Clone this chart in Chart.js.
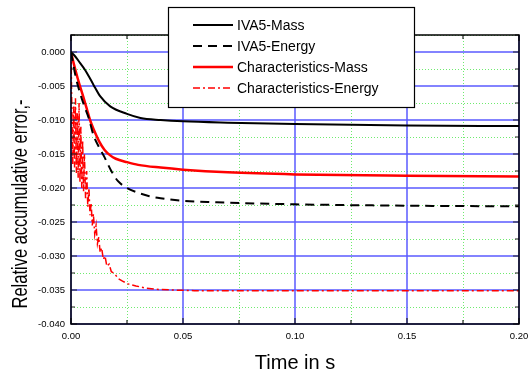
<!DOCTYPE html>
<html>
<head>
<meta charset="utf-8">
<script src="https://cdn.jsdelivr.net/npm/chart.js@4/dist/chart.umd.min.js"></script>
<style>
  html, body { margin: 0; padding: 0; background: #fff; }
  canvas { display: block; }
</style>
</head>
<body>
<canvas id="c" width="528" height="374"></canvas>
<script>
const FONT = '"Liberation Sans", Arial, Helvetica, sans-serif';

// Series names (legend order)
const seriesNames = ['IVA5-Mass', 'IVA5-Energy', 'Characteristics-Mass', 'Characteristics-Energy'];

// IVA5 – mass balance error
const ivaMassTime  = [0, 0.002, 0.004, 0.006, 0.008, 0.010, 0.013, 0.0175, 0.025, 0.031, 0.040, 0.050, 0.070, 0.100, 0.150, 0.200];
const ivaMassError = [0, -0.0007, -0.0016, -0.0025, -0.0036, -0.0048, -0.0065, -0.0080, -0.0091, -0.0097, -0.0100, -0.0102, -0.0104, -0.0106, -0.0108, -0.0109];

// IVA5 – energy balance error
const ivaEnergyTime  = [0, 0.002, 0.004, 0.006, 0.008, 0.010, 0.0125, 0.015, 0.018, 0.021, 0.025, 0.030, 0.035, 0.040, 0.050, 0.065, 0.100, 0.150, 0.200];
const ivaEnergyError = [0, -0.0035, -0.0060, -0.0080, -0.0098, -0.0122, -0.0140, -0.0155, -0.0175, -0.0190, -0.0200, -0.0207, -0.0212, -0.0215, -0.0219, -0.0221, -0.0224, -0.0226, -0.0227];

// Method of characteristics – mass balance error
const charMassTime  = [0, 0.001, 0.002, 0.003, 0.004, 0.0055, 0.007, 0.0085, 0.010, 0.0125, 0.015, 0.0175, 0.020, 0.025, 0.030, 0.040, 0.050, 0.070, 0.100, 0.150, 0.200];
const charMassError = [0, -0.0014, -0.0027, -0.0039, -0.0050, -0.0066, -0.0083, -0.0100, -0.0113, -0.0131, -0.0144, -0.0152, -0.0157, -0.0162, -0.0166, -0.0170, -0.0173, -0.0177, -0.0180, -0.0182, -0.0183];

// Method of characteristics – energy balance error (oscillating start)
const charEnergyTime  = [0, 0.0004, 0.0008, 0.0012, 0.0016, 0.0020, 0.0024, 0.0028, 0.0032, 0.0036, 0.0040, 0.0044, 0.0048, 0.0052, 0.0056, 0.0060, 0.0065, 0.0070, 0.0075, 0.0080, 0.0085, 0.0090, 0.0095, 0.0100, 0.0106, 0.0112, 0.0118, 0.0124, 0.0130, 0.0137, 0.0144, 0.0152, 0.0160, 0.0170, 0.0180, 0.0195, 0.0210, 0.0230, 0.0255, 0.0290, 0.0330, 0.0380, 0.0450, 0.0550, 0.0800, 0.1200, 0.1600, 0.2000];
const charEnergyError = [0, -0.0090, -0.0165, -0.0080, -0.0170, -0.0068, -0.0178, -0.0090, -0.0185, -0.0075, -0.0192, -0.0110, -0.0200, -0.0130, -0.0205, -0.0150, -0.0215, -0.0175, -0.0228, -0.0200, -0.0240, -0.0222, -0.0255, -0.0238, -0.0268, -0.0255, -0.0282, -0.0272, -0.0295, -0.0288, -0.0305, -0.0300, -0.0315, -0.0312, -0.0323, -0.0326, -0.0333, -0.0337, -0.0341, -0.0344, -0.0347, -0.0349, -0.0350, -0.0351, -0.0351, -0.0351, -0.0351, -0.0351];

// Axis ticks and labels
const xMajorTicks  = [0, 0.05, 0.10, 0.15, 0.20];
const xTickLabels  = ['0.00', '0.05', '0.10', '0.15', '0.20'];
const yMajorTicks  = [0, -0.005, -0.010, -0.015, -0.020, -0.025, -0.030, -0.035, -0.040];
const yTickLabels  = ['0.000', '-0.005', '-0.010', '-0.015', '-0.020', '-0.025', '-0.030', '-0.035', '-0.040'];
const xTitle = 'Time in s';
const yTitle = 'Relative accumulative error,-';

const zip = (ts, vs) => ts.map((t, i) => ({ x: t, y: vs[i] }));
const findIdx = (arr, v) => arr.findIndex(m => Math.abs(m - v) < 1e-9);

const datasets = [
  { label: seriesNames[0], data: zip(ivaMassTime, ivaMassError),
    borderColor: '#000', borderWidth: 2, borderDash: [], cubicInterpolationMode: 'monotone' },
  { label: seriesNames[1], data: zip(ivaEnergyTime, ivaEnergyError),
    borderColor: '#000', borderWidth: 2, borderDash: [9, 6], cubicInterpolationMode: 'monotone' },
  { label: seriesNames[2], data: zip(charMassTime, charMassError),
    borderColor: '#ff0000', borderWidth: 2.5, borderDash: [], cubicInterpolationMode: 'monotone' },
  { label: seriesNames[3], data: zip(charEnergyTime, charEnergyError),
    borderColor: '#ff0000', borderWidth: 1.5, borderDash: [7, 3, 2, 3], tension: 0 }
].map(d => Object.assign({ pointRadius: 0, fill: false, backgroundColor: d.borderColor }, d));

// Grid, frame, inward ticks, legend box and axis titles
const decor = {
  id: 'decor',
  beforeDatasetsDraw(chart) {
    const { ctx, chartArea: a, scales: { x, y } } = chart;
    ctx.save();
    // minor grid: green dotted
    ctx.lineWidth = 1;
    ctx.setLineDash([1, 2]);
    ctx.strokeStyle = 'rgb(110,235,110)';
    x.ticks.forEach(t => {
      if (findIdx(xMajorTicks, t.value) >= 0) return;
      const p = Math.round(x.getPixelForValue(t.value)) + 0.5;
      ctx.beginPath(); ctx.moveTo(p, a.top); ctx.lineTo(p, a.bottom); ctx.stroke();
    });
    y.ticks.forEach(t => {
      if (findIdx(yMajorTicks, t.value) >= 0) return;
      const p = Math.round(y.getPixelForValue(t.value)) + 0.5;
      ctx.beginPath(); ctx.moveTo(a.left, p); ctx.lineTo(a.right, p); ctx.stroke();
    });
    // major grid: blue solid
    ctx.setLineDash([]);
    ctx.lineWidth = 1.5;
    ctx.strokeStyle = 'rgb(90,90,255)';
    xMajorTicks.forEach(v => {
      const p = x.getPixelForValue(v);
      ctx.beginPath(); ctx.moveTo(p, a.top); ctx.lineTo(p, a.bottom); ctx.stroke();
    });
    yMajorTicks.forEach(v => {
      const p = y.getPixelForValue(v);
      ctx.beginPath(); ctx.moveTo(a.left, p); ctx.lineTo(a.right, p); ctx.stroke();
    });
    ctx.restore();
  },
  afterDatasetsDraw(chart) {
    const { ctx, chartArea: a, scales: { x, y } } = chart;
    ctx.save();
    ctx.setLineDash([]);
    ctx.strokeStyle = '#222';
    ctx.lineWidth = 1.2;
    x.ticks.forEach(t => {
      const len = findIdx(xMajorTicks, t.value) >= 0 ? 6 : 4;
      const p = x.getPixelForValue(t.value);
      ctx.beginPath();
      ctx.moveTo(p, a.bottom); ctx.lineTo(p, a.bottom - len);
      ctx.moveTo(p, a.top); ctx.lineTo(p, a.top + len);
      ctx.stroke();
    });
    y.ticks.forEach(t => {
      const len = findIdx(yMajorTicks, t.value) >= 0 ? 6 : 4;
      const p = y.getPixelForValue(t.value);
      ctx.beginPath();
      ctx.moveTo(a.left, p); ctx.lineTo(a.left + len, p);
      ctx.moveTo(a.right, p); ctx.lineTo(a.right - len, p);
      ctx.stroke();
    });
    // plot frame
    ctx.strokeStyle = '#000';
    ctx.lineWidth = 1.5;
    ctx.strokeRect(a.left, a.top, a.right - a.left, a.bottom - a.top);
    ctx.restore();
  },
  afterDraw(chart) {
    const { ctx, chartArea: a } = chart;
    ctx.save();
    // legend box
    const bx = 168.5, by = 7.5, bw = 246, bh = 100;
    ctx.fillStyle = '#fff';
    ctx.fillRect(bx, by, bw, bh);
    ctx.strokeStyle = '#000';
    ctx.lineWidth = 1.2;
    ctx.strokeRect(bx, by, bw, bh);
    const rows = [25, 46, 67, 88];
    ctx.font = '14px ' + FONT;
    ctx.textBaseline = 'middle';
    ctx.textAlign = 'left';
    chart.data.datasets.forEach((d, i) => {
      ctx.strokeStyle = d.borderColor;
      ctx.lineWidth = d.borderWidth;
      ctx.setLineDash(d.borderDash || []);
      ctx.beginPath(); ctx.moveTo(193, rows[i]); ctx.lineTo(233, rows[i]); ctx.stroke();
      ctx.setLineDash([]);
      ctx.fillStyle = '#000';
      ctx.fillText(d.label, 237, rows[i] + 1);
    });
    // axis titles
    ctx.fillStyle = '#000';
    ctx.font = '20px ' + FONT;
    ctx.textAlign = 'center';
    ctx.textBaseline = 'alphabetic';
    ctx.fillText(xTitle, (a.left + a.right) / 2, 369);
    ctx.translate(27, 204);
    ctx.rotate(-Math.PI / 2);
    ctx.scale(0.75, 1);
    ctx.font = '22px ' + FONT;
    ctx.fillText(yTitle, 0, 0);
    ctx.restore();
  }
};

new Chart(document.getElementById('c'), {
  type: 'line',
  data: { datasets },
  options: {
    responsive: false,
    animation: false,
    devicePixelRatio: 1,
    layout: { padding: { left: 0, right: 9, top: 35, bottom: 0 } },
    plugins: { legend: { display: false }, tooltip: { enabled: false } },
    scales: {
      x: {
        type: 'linear',
        min: 0, max: 0.2,
        grid: { display: false, drawTicks: false },
        border: { display: false },
        ticks: {
          stepSize: 0.025, autoSkip: false, maxRotation: 0, padding: 7,
          color: '#000', font: { family: FONT, size: 9.5 },
          callback: v => { const i = findIdx(xMajorTicks, v); return i >= 0 ? xTickLabels[i] : ''; }
        },
        afterFit: s => { s.height = 50; s.paddingLeft = 0; s.paddingRight = 0; }
      },
      y: {
        type: 'linear',
        min: -0.04, max: 0.0025,
        grid: { display: false, drawTicks: false },
        border: { display: false },
        ticks: {
          stepSize: 0.0025, autoSkip: false, padding: 6,
          color: '#000', font: { family: FONT, size: 9.5 },
          callback: v => { const i = findIdx(yMajorTicks, v); return i >= 0 ? yTickLabels[i] : ''; }
        },
        afterFit: s => { s.width = 71; s.paddingTop = 0; s.paddingBottom = 0; }
      }
    }
  },
  plugins: [decor]
});
</script>
</body>
</html>
